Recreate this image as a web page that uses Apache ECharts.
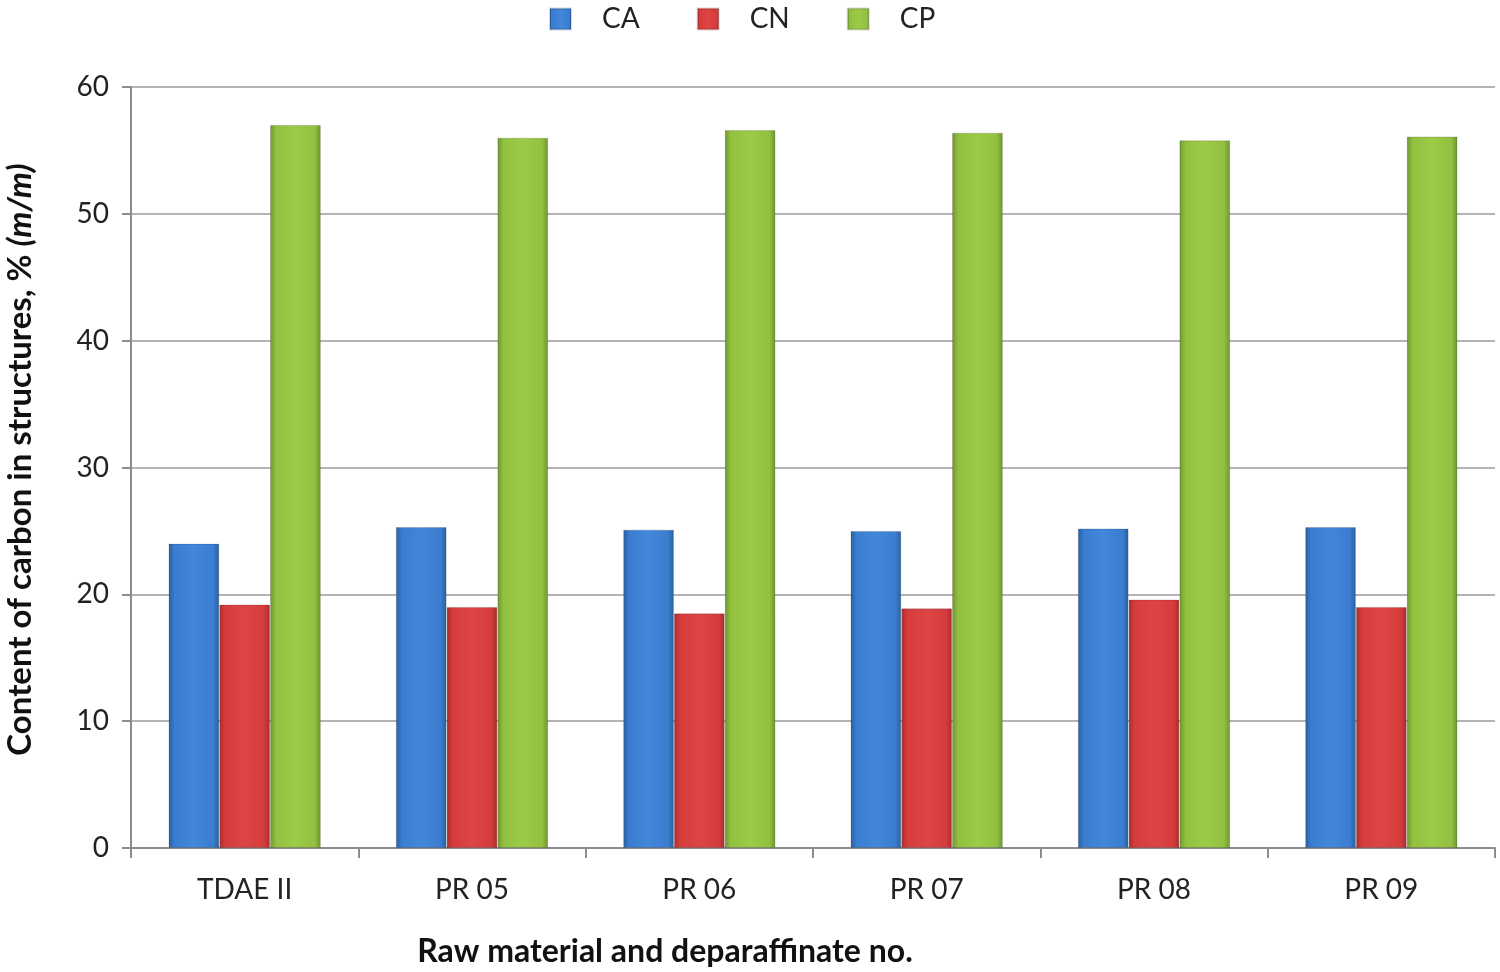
<!DOCTYPE html>
<html>
<head>
<meta charset="utf-8">
<script src="https://cdn.jsdelivr.net/npm/echarts@6/dist/echarts.min.js"></script>
<style>
html,body{margin:0;padding:0;background:#fff;}
#chart{width:1500px;height:972px;}
</style>
</head>
<body>
<div id="chart"></div>
<script>
const categories = ['TDAE II', 'PR 05', 'PR 06', 'PR 07', 'PR 08', 'PR 09'];
const seriesNames = ['CA', 'CN', 'CP'];
const caValues = [24.0, 25.3, 25.1, 25.0, 25.2, 25.3];
const cnValues = [19.2, 19.0, 18.5, 18.9, 19.6, 19.0];
const cpValues = [57.0, 56.0, 56.6, 56.4, 55.8, 56.1];
const yTicks = [0, 10, 20, 30, 40, 50, 60];

const FONT = 'Lato, "Open Sans", sans-serif';

function grad(dark, mid, light) {
  return new echarts.graphic.LinearGradient(0, 0, 1, 0, [
    {offset: 0, color: dark},
    {offset: 0.12, color: mid},
    {offset: 0.5, color: light},
    {offset: 0.88, color: mid},
    {offset: 1, color: dark}
  ]);
}
const styles = [
  {main: '#3b7dd0', fill: grad('#2a5f9e', '#3b7dd0', '#4187da')},
  {main: '#d63c3c', fill: grad('#a82c2c', '#d63c3c', '#dd4444')},
  {main: '#92c040', fill: grad('#6f9430', '#92c040', '#9ccb46')}
];
const dataSets = [caValues, cnValues, cpValues];

const chart = echarts.init(document.getElementById('chart'));
chart.setOption({
  animation: false,
  legend: {
    top: 0,
    left: 544,
    itemWidth: 21,
    itemHeight: 21,
    itemGap: 57,
    icon: 'rect',
    textStyle: {fontSize: 28, color: '#222', fontFamily: FONT, padding: [0, 0, 0, 26]},
    data: seriesNames
  },
  grid: {left: 131, right: 5, top: 87, bottom: 124, outerBoundsMode: 'none', containLabel: false},
  xAxis: {
    type: 'category',
    data: categories,
    name: 'Raw material and deparaffinate no.',
    nameLocation: 'middle',
    nameGap: 88,
    nameTextStyle: {fontSize: 32, fontWeight: 'bold', color: '#111', fontFamily: FONT, padding: [0, 296, 0, 0]},
    axisLine: {lineStyle: {color: '#8c8c8c', width: 2}},
    axisTick: {show: true, length: 10, lineStyle: {color: '#8c8c8c', width: 2}},
    axisLabel: {fontSize: 28, color: '#222', margin: 28, fontFamily: FONT}
  },
  yAxis: {
    type: 'value',
    min: 0, max: 60, interval: 10,
    name: '{n|Content of carbon in structures, % }{i|(m/m)}',
    nameLocation: 'middle',
    nameRotate: 90,
    nameGap: 94,
    nameTextStyle: {
      padding: [0, 0, 0, 16],
      rich: {
        n: {fontSize: 33, fontWeight: 'bold', color: '#111', fontFamily: FONT},
        i: {fontSize: 33, fontWeight: 'bold', fontStyle: 'italic', color: '#111', fontFamily: FONT}
      }
    },
    axisLine: {show: true, lineStyle: {color: '#8c8c8c', width: 2}},
    axisTick: {show: true, length: 9, lineStyle: {color: '#8c8c8c', width: 2}},
    axisLabel: {fontSize: 28, color: '#222', margin: 22, fontFamily: FONT,
      formatter: v => yTicks.includes(v) ? String(v) : ''},
    splitLine: {show: true, lineStyle: {color: '#b4b4b4', width: 2}}
  },
  series: seriesNames.map((name, i) => ({
    name: name,
    type: 'bar',
    data: dataSets[i],
    barGap: '0%',
    barCategoryGap: '33%',
    itemStyle: {color: styles[i].fill, borderColor: 'rgba(0,0,0,0.15)', borderWidth: 1},
    emphasis: {disabled: true}
  })),
  color: styles.map(s => s.main)
});
</script>
</body>
</html>
